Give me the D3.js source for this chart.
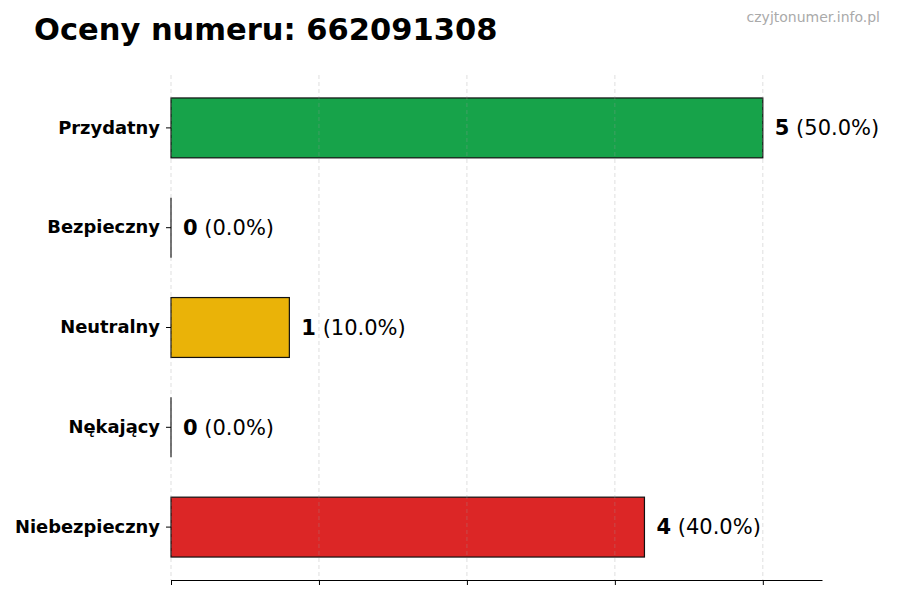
<!DOCTYPE html>
<html lang="pl">
<head>
<meta charset="UTF-8">
<title>Oceny numeru: 662091308</title>
<script src="https://d3js.org/d3.v7.min.js"></script>
<style>
    body { margin: 0; background: #fff; font-family: "DejaVu Sans", sans-serif; }
    svg text { font-family: "DejaVu Sans", sans-serif; }
</style>
</head>
<body>
<div id="chart"></div>
<script>
    const categories = ["Przydatny", "Bezpieczny", "Neutralny", "Nękający", "Niebezpieczny"];
    const counts = [5, 0, 1, 0, 4];
    const colors = ["#17a34a", "#9ca3af", "#eab308", "#f97316", "#dc2626"];
    const gridTicks = [0, 1.25, 2.5, 3.75, 5];

    const width = 900, height = 600;
    const margin = { left: 171, right: 78 };
    const axisY = 580;
    const total = d3.sum(counts);

    const svg = d3.select("#chart").append("svg")
        .attr("width", width)
        .attr("height", height);

    const x = d3.scaleLinear()
        .domain([0, 5.5])
        .range([margin.left, width - margin.right]);

    const y = d3.scaleBand()
        .domain(categories)
        .range([78, 577])
        .paddingInner(0.4)
        .paddingOuter(0.2);

    // title + watermark
    svg.append("text")
        .attr("x", 34).attr("y", 40)
        .attr("font-size", 30.5).attr("font-weight", "bold")
        .attr("fill", "#000")
        .text("Oceny numeru: 662091308");

    svg.append("text")
        .attr("x", 880).attr("y", 22)
        .attr("text-anchor", "end")
        .attr("font-size", 14)
        .attr("fill", "#aaa")
        .text("czyjtonumer.info.pl");

    const data = categories.map((c, i) => ({ name: c, value: counts[i], color: colors[i] }));

    // bars
    svg.selectAll("rect.bar")
        .data(data.filter(d => d.value > 0))
        .enter()
        .append("rect")
        .attr("class", "bar")
        .attr("x", x(0))
        .attr("y", d => y(d.name))
        .attr("width", d => x(d.value) - x(0))
        .attr("height", y.bandwidth())
        .attr("fill", d => d.color)
        .attr("stroke", "#111")
        .attr("stroke-width", 1.2);

    // zero-width bars still show their edge
    svg.selectAll("line.zero")
        .data(data.filter(d => d.value === 0))
        .enter()
        .append("line")
        .attr("class", "zero")
        .attr("x1", x(0)).attr("x2", x(0))
        .attr("y1", d => y(d.name))
        .attr("y2", d => y(d.name) + y.bandwidth())
        .attr("stroke", "#111")
        .attr("stroke-width", 1.2);

    // grid (dashed, on top, faint)
    svg.selectAll("line.grid")
        .data(gridTicks)
        .enter()
        .append("line")
        .attr("class", "grid")
        .attr("x1", d => x(d)).attr("x2", d => x(d))
        .attr("y1", 75).attr("y2", axisY)
        .attr("stroke", "#999")
        .attr("stroke-opacity", 0.4)
        .attr("stroke-dasharray", "4,3")
        .attr("stroke-width", 0.8);

    // bottom axis without labels
    const xAxis = d3.axisBottom(x)
        .tickValues(gridTicks)
        .tickFormat("")
        .tickSize(5)
        .tickSizeOuter(0);

    svg.append("g")
        .attr("transform", `translate(0,${axisY})`)
        .call(xAxis)
        .call(g => g.select(".domain").attr("stroke", "#000").attr("stroke-width", 1))
        .call(g => g.selectAll(".tick line").attr("stroke", "#000"));

    // left category labels with ticks
    const yAxis = d3.axisLeft(y).tickSize(5).tickPadding(6);
    svg.append("g")
        .attr("transform", `translate(${margin.left},0)`)
        .call(yAxis)
        .call(g => g.select(".domain").remove())
        .call(g => g.selectAll(".tick line").attr("stroke", "#000"))
        .call(g => g.selectAll(".tick text")
            .attr("font-size", 17.9)
            .attr("font-weight", "bold")
            .attr("fill", "#000"));

    // value labels
    const labels = svg.selectAll("text.val")
        .data(data)
        .enter()
        .append("text")
        .attr("class", "val")
        .attr("x", d => x(d.value) + 12)
        .attr("y", d => y(d.name) + y.bandwidth() / 2)
        .attr("dy", "0.35em")
        .attr("font-size", 21)
        .attr("fill", "#000");

    labels.append("tspan")
        .attr("font-weight", "bold")
        .text(d => d.value);

    labels.append("tspan")
        .text(d => ` (${(d.value / total * 100).toFixed(1)}%)`);
</script>
</body>
</html>
